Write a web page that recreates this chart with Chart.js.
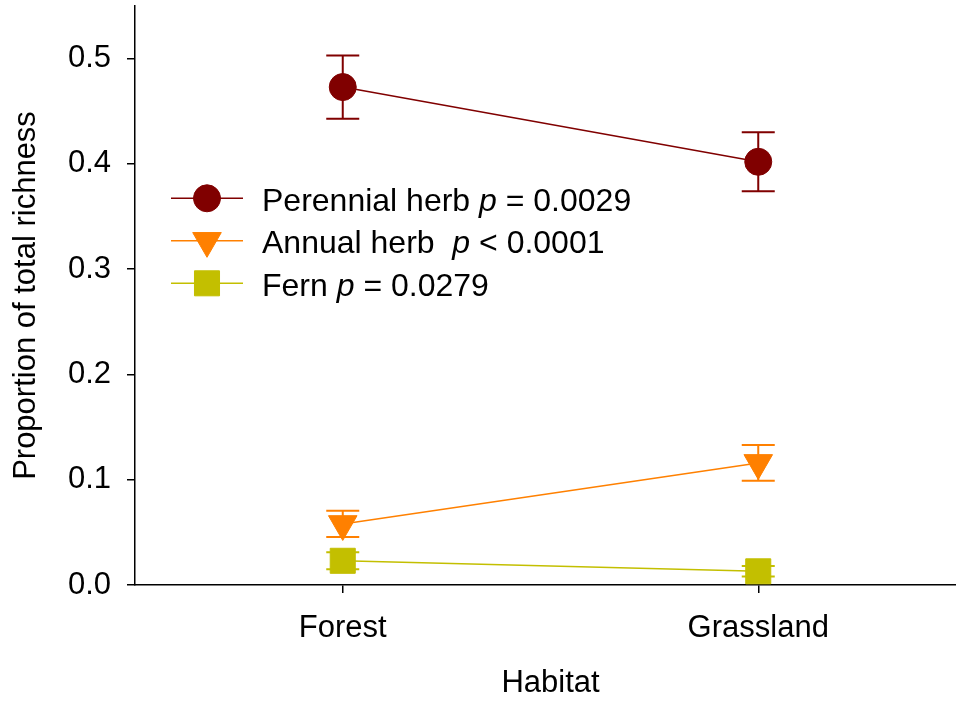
<!DOCTYPE html>
<html>
<head>
<meta charset="utf-8">
<script src="https://cdn.jsdelivr.net/npm/chart.js@4.4.1/dist/chart.umd.min.js"></script>
<style>
  html, body { margin: 0; padding: 0; background: #fff; overflow: hidden; }
  #wrap { position: relative; width: 970px; height: 702px; }
</style>
</head>
<body>
<div id="wrap"><canvas id="c" width="970" height="702"></canvas></div>
<script>
// Habitat categories and per-group proportions (mean ± SE)
const categories = ['Forest', 'Grassland'];
const perennialMean = [0.473, 0.402];
const perennialSE = [0.030, 0.028];
const annualMean = [0.058, 0.116];
const annualSE = [0.0125, 0.017];
const fernMean = [0.023, 0.013];
const fernSE = [0.008, 0.005];
const yTicks = [0, 0.1, 0.2, 0.3, 0.4, 0.5];

// Legend text: name, italic p, test result
const legendText = [
  ['Perennial herb ', 'p', ' = 0.0029'],
  ['Annual herb  ', 'p', ' < 0.0001'],
  ['Fern ', 'p', ' = 0.0279']
];

const FAMILY = '"Liberation Sans", Arial, Helvetica, sans-serif';
const FS = 31;
const LEGEND_FS = 32;

// Vertical error bars with caps, drawn beneath the markers
const errorBars = {
  id: 'errorBars',
  beforeDatasetsDraw(chart) {
    const { ctx, scales: { x, y } } = chart;
    chart.data.datasets.forEach((ds) => {
      ds.data.forEach((v, j) => {
        const e = ds.errors[j];
        const px = x.getPixelForValue(j);
        const top = y.getPixelForValue(v + e);
        const bot = y.getPixelForValue(v - e);
        const half = 16.5;
        ctx.save();
        ctx.strokeStyle = ds.borderColor;
        ctx.lineWidth = 2;
        ctx.beginPath();
        ctx.moveTo(px, top); ctx.lineTo(px, bot);
        ctx.moveTo(px - half, top); ctx.lineTo(px + half, top);
        ctx.moveTo(px - half, bot); ctx.lineTo(px + half, bot);
        ctx.stroke();
        ctx.restore();
      });
    });
  }
};

// Legend block with mixed upright / italic text
const legendBlock = {
  id: 'legendBlock',
  afterDraw(chart) {
    const ctx = chart.ctx;
    const lineX0 = 171, lineX1 = 243, markX = 207, textX = 262;
    const rowY = [198.3, 240.8, 283.3];
    chart.data.datasets.forEach((ds, i) => {
      const cy = rowY[i];
      ctx.save();
      ctx.strokeStyle = ds.borderColor;
      ctx.lineWidth = ds.borderWidth;
      ctx.beginPath();
      ctx.moveTo(lineX0, cy); ctx.lineTo(lineX1, cy);
      ctx.stroke();
      ctx.fillStyle = ds.pointBackgroundColor;
      ctx.strokeStyle = ds.pointBorderColor;
      ctx.lineWidth = ds.pointBorderWidth;
      Chart.helpers.drawPoint(ctx, {
        pointStyle: ds.pointStyle,
        radius: ds.pointRadius,
        rotation: ds.pointRotation || 0,
        borderWidth: ds.pointBorderWidth
      }, markX, cy);
      ctx.fillStyle = '#000';
      ctx.textBaseline = 'alphabetic';
      ctx.textAlign = 'left';
      let tx = textX;
      const base = cy + 12.5;
      legendText[i].forEach((seg, k) => {
        ctx.font = (k === 1 ? 'italic ' : '') + LEGEND_FS + 'px ' + FAMILY;
        ctx.fillText(seg, tx, base);
        tx += ctx.measureText(seg).width;
      });
      ctx.restore();
    });
  }
};

function series(label, data, errors, color, style, radius, rotation, width) {
  return {
    label, data, errors,
    borderColor: color,
    backgroundColor: color,
    borderWidth: width,
    pointStyle: style,
    pointRadius: radius,
    pointHoverRadius: radius,
    pointRotation: rotation,
    pointBackgroundColor: color,
    pointBorderColor: color,
    pointBorderWidth: 1,
    tension: 0,
    clip: false
  };
}

new Chart(document.getElementById('c'), {
  type: 'line',
  data: {
    labels: categories,
    datasets: [
      series('Perennial herb', perennialMean, perennialSE, '#800000', 'circle', 13.5, 0, 1.5),
      series('Annual herb', annualMean, annualSE, '#FF8000', 'triangle', 16.5, 180, 1.5),
      series('Fern', fernMean, fernSE, '#C3BF00', 'rect', 17.7, 0, 1.5)
    ]
  },
  options: {
    responsive: false,
    animation: false,
    events: [],
    layout: { autoPadding: false, padding: { top: 6, right: 4, left: 0, bottom: 0 } },
    plugins: { legend: { display: false }, tooltip: { enabled: false } },
    scales: {
      x: {
        type: 'category',
        offset: true,
        grid: { display: true, drawOnChartArea: false, drawTicks: true, tickLength: 8, color: '#000', lineWidth: 1.5 },
        border: { display: true, color: '#000', width: 1.5 },
        ticks: { color: '#000', font: { size: FS, family: FAMILY }, padding: 17, maxRotation: 0, autoSkip: false },
        title: { display: true, text: 'Habitat', color: '#000', font: { size: FS, family: FAMILY }, padding: { top: 0, bottom: 0 } },
        afterFit(s) { s.height = 117; s.paddingLeft = 0; s.paddingRight = 0; }
      },
      y: {
        type: 'linear',
        min: 0,
        max: 0.55,
        afterBuildTicks(s) { s.ticks = yTicks.map(v => ({ value: v })); },
        grid: { display: true, drawOnChartArea: false, drawTicks: true, tickLength: 8, color: '#000', lineWidth: 1.5 },
        border: { display: true, color: '#000', width: 1.5 },
        ticks: { color: '#000', font: { size: FS, family: FAMILY }, padding: 16, callback: v => Number(v).toFixed(1) },
        title: { display: true, text: 'Proportion of total richness', color: '#000', font: { size: FS, family: FAMILY }, padding: { top: 8, bottom: 0 } },
        afterFit(s) { s.width = 135; s.paddingTop = 0; s.paddingBottom = 0; }
      }
    }
  },
  plugins: [errorBars, legendBlock]
});
</script>
</body>
</html>
